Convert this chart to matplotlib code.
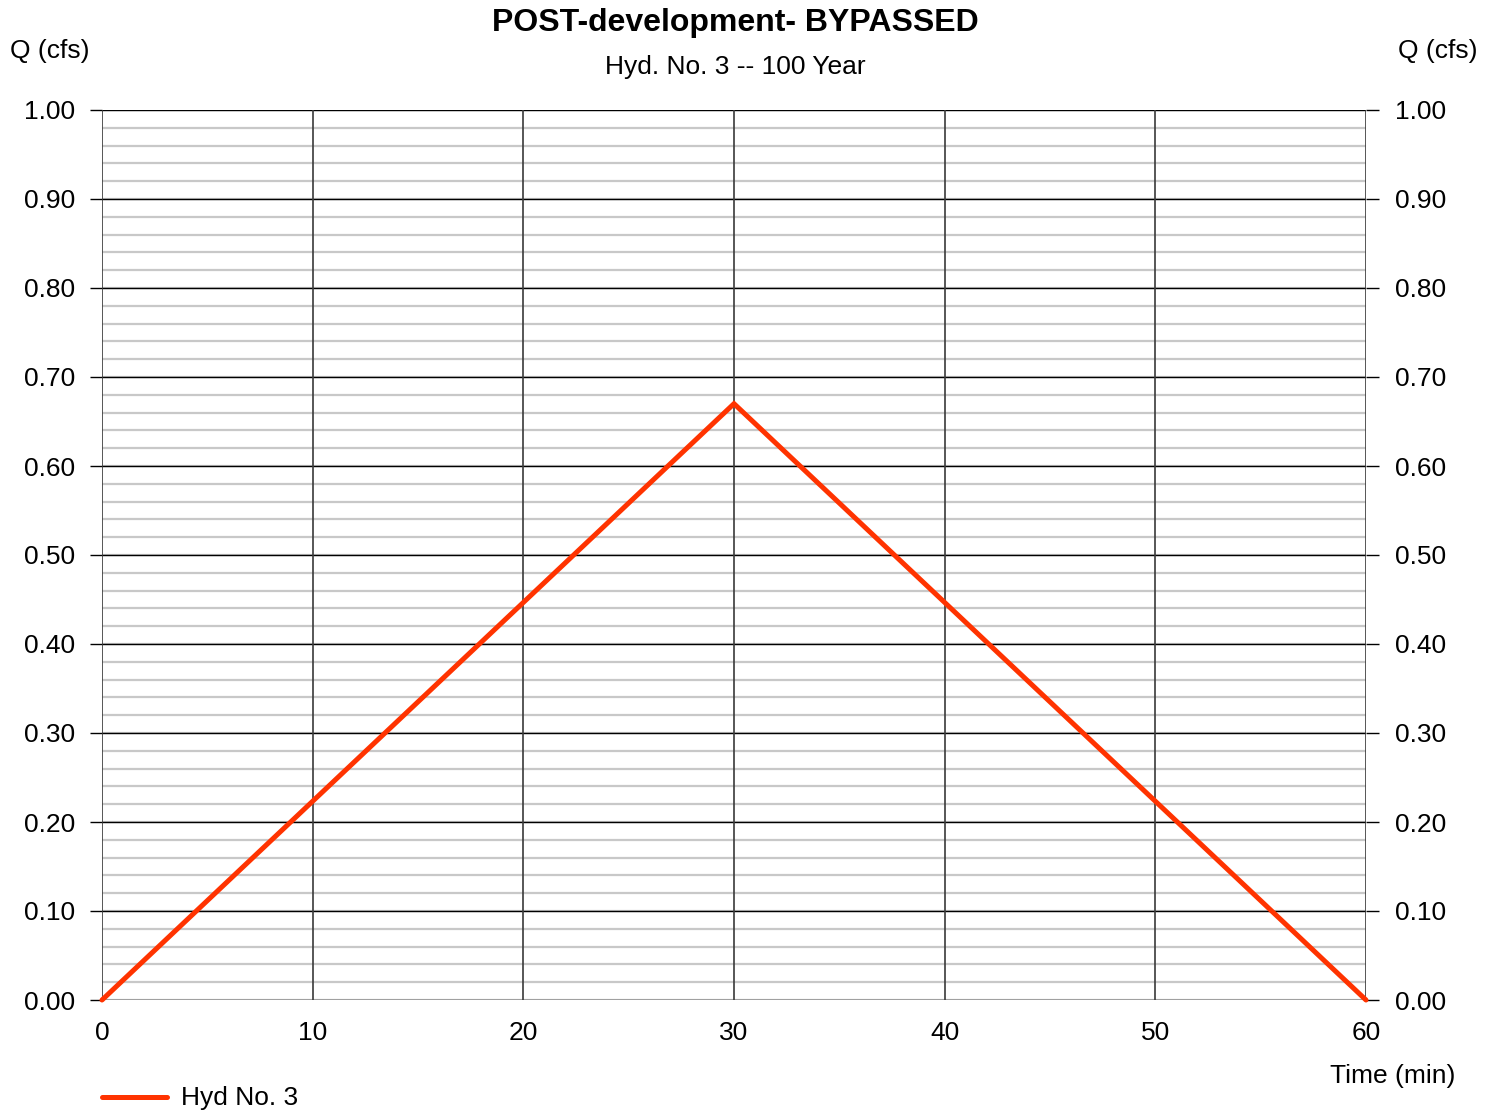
import matplotlib.pyplot as plt
import numpy as np

plt.rcParams['font.family'] = ['Liberation Sans', 'DejaVu Sans']

# Hydrograph data
time_min = [0, 30, 60]
flow_cfs = [0.0, 0.67, 0.0]

x_ticks = [0, 10, 20, 30, 40, 50, 60]
y_ticks = [0.0, 0.1, 0.2, 0.3, 0.4, 0.5, 0.6, 0.7, 0.8, 0.9, 1.0]

fig = plt.figure(figsize=(14.96, 11.12), dpi=100)
ax = fig.add_axes([102 / 1496, 1 - 1000 / 1112, 1264 / 1496, 890 / 1112])

# minor grid every 0.02
minor_y = np.round(np.arange(0, 1.0001, 0.02), 2)
for y in minor_y:
    ax.axhline(y, color='#c8c8c8', lw=1.6, zorder=1)
for y in y_ticks:
    ax.axhline(y, color='black', lw=1.0, zorder=2)
for x in x_ticks:
    ax.axvline(x, color='#3a3a3a', lw=1.2, zorder=2)

ax.plot(time_min, flow_cfs, color='#ff3300', lw=3.6, zorder=5,
        solid_capstyle='round', solid_joinstyle='miter', clip_on=False)

ax.set_xlim(0, 60)
ax.set_ylim(0, 1.0)
ax.set_xticks(x_ticks)
ax.set_yticks(y_ticks)
ax.set_yticklabels([f"{v:.2f}" for v in y_ticks])
for s in ax.spines.values():
    s.set_visible(False)
ax.tick_params(axis='x', length=0, labelsize=19, pad=15)
ax.tick_params(axis='y', length=9, width=1.0, labelsize=19, pad=10,
               left=True, right=True, labelleft=True, labelright=True)
for t in ax.yaxis.get_major_ticks():
    t.label2.set_x(1.0)
    t.set_pad(10)
# right labels sit a little further out
for lbl in ax.get_yticklabels(which='major'):
    pass
for t in ax.yaxis.get_major_ticks():
    t.label2.set_transform(t.label2.get_transform() +
                           plt.matplotlib.transforms.ScaledTranslation(3 / 100, 0, fig.dpi_scale_trans))

fig.text(735 / 1496, 1 - 23 / 1112, "POST-development- BYPASSED", ha='center', va='center',
         fontsize=23, fontweight='bold')
fig.text(735 / 1496, 1 - 67 / 1112, "Hyd. No. 3 -- 100 Year", ha='center', va='center',
         fontsize=19)
fig.text(10 / 1496, 1 - 51 / 1112, "Q (cfs)", ha='left', va='center', fontsize=19)
fig.text(1477 / 1496, 1 - 51 / 1112, "Q (cfs)", ha='right', va='center', fontsize=19)
fig.text(1455 / 1496, 1 - 1076 / 1112, "Time (min)", ha='right', va='center', fontsize=19)

# legend
fig.add_artist(plt.Line2D([102 / 1496, 167 / 1496], [1 - 1097 / 1112] * 2,
                          color='#ff3300', lw=3.6, solid_capstyle='round'))
fig.text(181 / 1496, 1 - 1098 / 1112, "Hyd No. 3", ha='left', va='center', fontsize=19)

fig.savefig("out.png", dpi=100)
